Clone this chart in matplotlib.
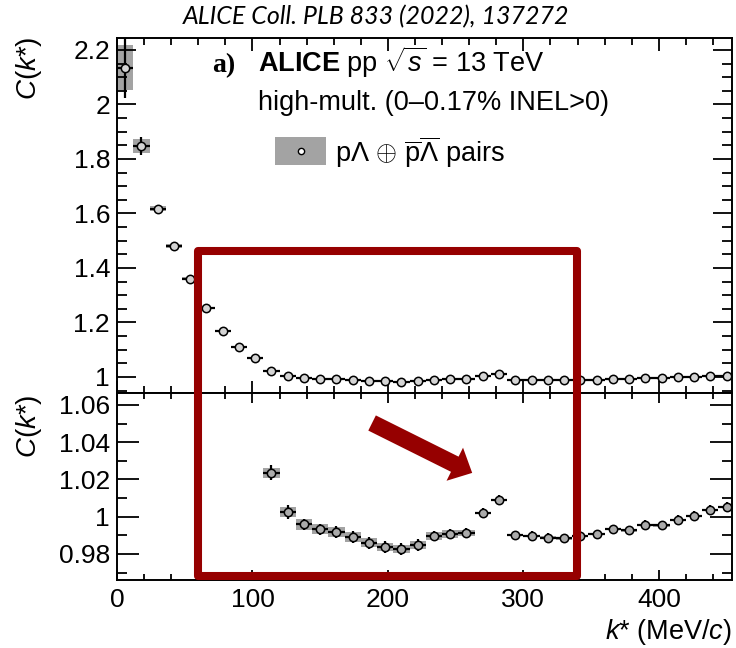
import matplotlib
matplotlib.use("Agg")
import matplotlib.pyplot as plt
from matplotlib.patches import Rectangle
from matplotlib.ticker import MultipleLocator, FuncFormatter

plt.rcParams['font.family'] = ['Liberation Sans', 'DejaVu Sans']
plt.rcParams['mathtext.fontset'] = 'custom'
plt.rcParams['mathtext.rm'] = 'Liberation Sans'
plt.rcParams['mathtext.it'] = 'Liberation Sans:italic'
plt.rcParams['mathtext.bf'] = 'Liberation Sans:bold'

# p-Lambda correlation function, 12 MeV/c bins
k_star = [6, 18, 30, 42, 54, 66, 78, 90, 102, 114, 126, 138, 150, 162, 174,
          186, 198, 210, 222, 234, 246, 258, 270, 282, 294, 306, 318, 330,
          342, 354, 366, 378, 390, 402, 414, 426, 438, 450]
corr = [2.135, 1.848, 1.617, 1.481, 1.360, 1.253, 1.169, 1.110, 1.070,
        1.0235, 1.0025, 0.9958, 0.9932, 0.9918, 0.9891, 0.9859, 0.9837,
        0.9826, 0.9848, 0.9896, 0.9907, 0.9912, 1.0020, 1.0090, 0.9900,
        0.9896, 0.9888, 0.9883, 0.9896, 0.9905, 0.9932, 0.9926, 0.9956,
        0.9953, 0.9982, 1.0004, 1.0036, 1.0052]
stat_err = [0.110, 0.033, 0.008, 0.006, 0.005, 0.004, 0.004, 0.004, 0.003,
            0.0040, 0.0036, 0.0030, 0.0030, 0.0030, 0.0030, 0.0030, 0.0030,
            0.0030, 0.0030, 0.0028, 0.0028, 0.0028, 0.0026, 0.0026, 0.0025,
            0.0025, 0.0025, 0.0025, 0.0025, 0.0025, 0.0025, 0.0025, 0.0025,
            0.0025, 0.0025, 0.0025, 0.0025, 0.0025]
syst_err = [0.083, 0.026, 0.009, 0.006, 0.005, 0.004, 0.004, 0.0035, 0.003,
            0.0027, 0.0027, 0.0027, 0.0027, 0.0026, 0.0025, 0.0024, 0.0023,
            0.0022, 0.0021, 0.0020, 0.0019, 0.0018, 0.0006, 0.0006, 0.0006,
            0.0006, 0.0006, 0.0006, 0.0006, 0.0006, 0.0006, 0.0006, 0.0006,
            0.0006, 0.0006, 0.0006, 0.0006, 0.0006]
bin_width = 12

top_yticks = [1, 1.2, 1.4, 1.6, 1.8, 2, 2.2]
bot_yticks = [0.98, 1, 1.02, 1.04, 1.06]
x_ticks = [0, 100, 200, 300, 400]

W, H = 736, 648
fig = plt.figure(figsize=(W / 100, H / 100), dpi=100)

def fx(px):
    return px / W

def fy(py):
    return 1 - py / H

left, right = fx(117), fx(732)
ax_top = fig.add_axes([left, fy(393), right - left, fy(38) - fy(393)])
ax_bot = fig.add_axes([left, fy(580), right - left, fy(393) - fy(580)])

red = '#960000'
box_grey = '#a3a3a3'
fmt = FuncFormatter(lambda v, _: f'{v:g}')
txt_size = 19.5

for ax, mfc in ((ax_top, '#d4d4d4'), (ax_bot, '#ababab')):
    lows = [c - s for c, s in zip(corr, syst_err)]
    heights = [2 * s for s in syst_err]
    ax.bar(k_star, heights, width=bin_width, bottom=lows, color=box_grey,
           linewidth=0, zorder=1)
    ax.errorbar(k_star, corr, xerr=bin_width / 2, yerr=stat_err, fmt='o',
                ms=6, mfc=mfc, mec='black', mew=1.1, ecolor='black',
                elinewidth=1.6, capsize=0, zorder=3)
    ax.set_xlim(0, 454)
    ax.xaxis.set_major_locator(MultipleLocator(100))
    ax.xaxis.set_minor_locator(MultipleLocator(20))
    ax.yaxis.set_major_formatter(fmt)
    ax.xaxis.set_major_formatter(fmt)
    ax.tick_params(which='both', direction='in', top=True, right=True,
                   width=1.3, labelsize=19)
    ax.tick_params(axis='y', which='major', pad=5)
    for sp in ax.spines.values():
        sp.set_linewidth(1.4)

ax_top.set_ylim(0.941, 2.244)
ax_top.set_yticks(top_yticks)
ax_top.yaxis.set_minor_locator(MultipleLocator(0.05))
ax_top.tick_params(axis='y', which='major', length=13.5)
ax_top.tick_params(axis='y', which='minor', length=7)
ax_top.tick_params(axis='x', which='major', length=9, labelbottom=False)
ax_top.tick_params(axis='x', which='minor', length=5)

ax_bot.set_ylim(0.966, 1.0664)
ax_bot.set_yticks(bot_yticks)
ax_bot.yaxis.set_minor_locator(MultipleLocator(0.01))
ax_bot.set_xticks(x_ticks)
ax_bot.tick_params(axis='y', which='major', length=15.5)
ax_bot.tick_params(axis='y', which='minor', length=7)
ax_bot.tick_params(axis='x', which='major', length=7.5, pad=6)
ax_bot.tick_params(axis='x', which='minor', length=4.5)

# axis titles
ylab = r'$C$($k$*)'
fig.text(fx(29), fy(36), ylab, rotation=90, ha='center', va='top', size=20)
fig.text(fx(29), fy(394), ylab, rotation=90, ha='center', va='top', size=20)
fig.text(fx(732), fy(632), r'$k$* (MeV/$c$)', ha='right', va='center',
         size=19.5)

# reference header
fig.text(fx(376), fy(17), 'ALICE Coll. PLB 833 (2022), 137272',
         family=['Lato', 'DejaVu Sans'], style='italic', size=18,
         ha='center', va='center')

# panel annotations
fig.text(fx(212), fy(72), 'a)', family=['Liberation Serif'], weight='bold',
         size=20, va='baseline')
fig.text(fx(258), fy(72), r'$\mathbf{ALICE}$ pp $\sqrt{s}$ = 13 TeV',
         size=txt_size, va='baseline')
fig.text(fx(258), fy(110), 'high-mult. (0\u20130.17% INEL>0)', size=txt_size,
         va='baseline')

# legend entry: systematic box with marker
fig.add_artist(Rectangle((fx(275), fy(165)), fx(326) - fx(275),
                         fy(137) - fy(165), transform=fig.transFigure,
                         facecolor=box_grey, edgecolor='none', zorder=5))
fig.add_artist(plt.Line2D([fx(300.5)], [fy(151)], marker='o', ms=4.5,
                          mfc='white', mec='black', mew=1.0,
                          transform=fig.transFigure, zorder=6))
fig.text(fx(335), fy(152),
         r'p$\Lambda$ $\oplus$ $\overline{\mathrm{p}}\overline{\Lambda}$ pairs',
         size=txt_size, va='center')

# highlight frame spanning both panels
fig.canvas.draw()
p_tl = ax_top.transData.transform((59.5, 1.4624))
p_br = ax_bot.transData.transform((339.5, 0.9682))
inv = fig.transFigure.inverted()
(x0, y1) = inv.transform(p_tl)
(x1, y0) = inv.transform(p_br)
fig.add_artist(Rectangle((x0, y0), x1 - x0, y1 - y0, transform=fig.transFigure,
                         fill=False, edgecolor=red, linewidth=5.8,
                         joinstyle='round', zorder=10))

# arrow pointing at the structure near 280 MeV/c
ax_bot.annotate('', xy=(262.2, 1.0235), xytext=(188.3, 1.0503),
                arrowprops=dict(arrowstyle='simple,head_length=14,'
                                'head_width=26.6,tail_width=12.2',
                                mutation_scale=1, color=red, lw=0,
                                shrinkA=0, shrinkB=0), zorder=10)

fig.savefig('out.png', dpi=100)
